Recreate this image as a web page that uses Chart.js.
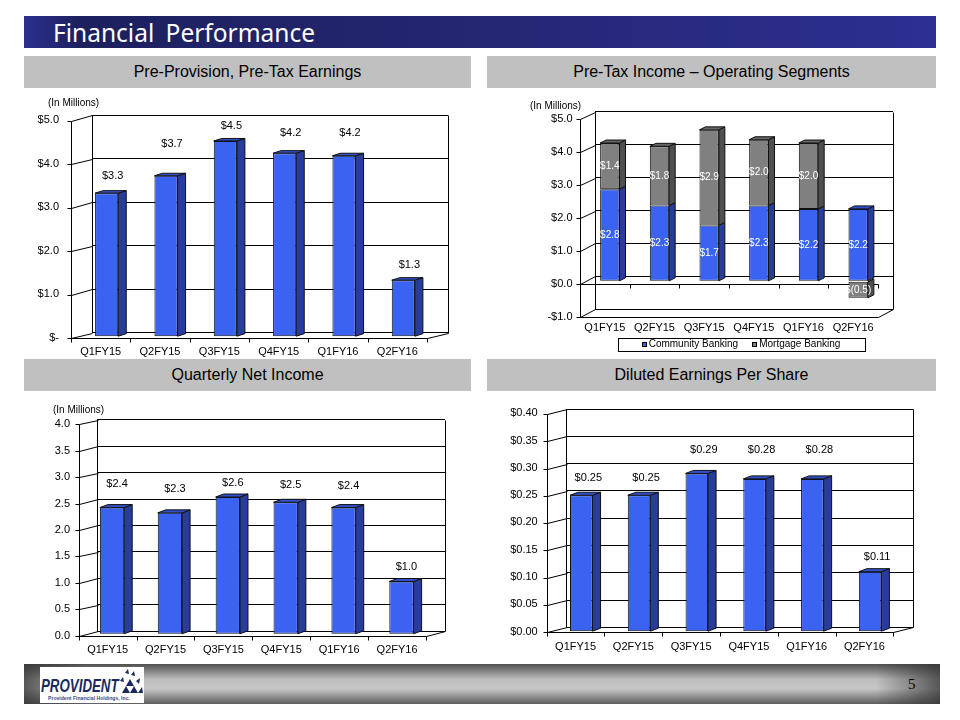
<!DOCTYPE html>
<html>
<head>
<meta charset="utf-8">
<script src="https://cdn.jsdelivr.net/npm/chart.js@4.4.1/dist/chart.umd.min.js"></script>
<style>
  body { margin:0; width:960px; height:720px; position:relative; overflow:hidden; background:#fff;
         font-family:"Liberation Sans", Arial, sans-serif; color:#000; }
  .titlebar { position:absolute; left:24px; top:16px; width:912px; height:32px;
              background:linear-gradient(to right,#2c3090 0%,#1d205e 6%,#23266f 45%,#2d2f92 100%); }
  .titlebar span { position:absolute; left:29px; top:0; line-height:32px; color:#fff;
                   font:24.5px "Noto Sans", "DejaVu Sans", sans-serif; word-spacing:5px; }
  .hdr { position:absolute; height:32px; line-height:32px; background:#c0c0c0; text-align:center; font-size:16px; }
  .unit { position:absolute; font-size:10px; line-height:12px; }
  canvas { position:absolute; }
  .footer { position:absolute; left:24px; top:664px; width:916px; height:40px;
            background:linear-gradient(to right,rgba(50,50,50,.75),rgba(0,0,0,0) 7%,rgba(0,0,0,0) 93%,rgba(50,50,50,.75)),
                       linear-gradient(#505050,#bdbdbd 38%,#c6c6c6 62%,#5e5e5e); }
  .logo { position:absolute; left:40px; top:667px; width:104px; height:36px; background:#fff; overflow:hidden; }
  .logo .big { position:absolute; left:1px; top:9px; font:bold italic 19px "Liberation Sans", Arial, sans-serif;
               color:#1b2a5e; transform:scaleX(0.7); transform-origin:left top; line-height:19px; }
  .logo .small { position:absolute; left:8px; top:28px; font:bold 6px "Liberation Sans", Arial, sans-serif; color:#3a4a8a;
                 transform:scaleX(0.85); transform-origin:left top; white-space:nowrap; }
  .logo svg { position:absolute; left:76px; top:0; }
  .page { position:absolute; left:908px; top:676px; font:15px "Liberation Serif", serif; }
</style>
</head>
<body>
<div class="titlebar"><span>Financial Performance</span></div>

<div class="hdr" style="left:24px;top:56px;width:447px">Pre-Provision, Pre-Tax Earnings</div>
<div class="hdr" style="left:487px;top:56px;width:449px">Pre-Tax Income – Operating Segments</div>
<div class="hdr" style="left:24px;top:359px;width:447px">Quarterly Net Income</div>
<div class="hdr" style="left:487px;top:359px;width:449px">Diluted Earnings Per Share</div>

<canvas id="ppte"></canvas>
<canvas id="segments"></canvas>
<canvas id="netIncome"></canvas>
<canvas id="eps"></canvas>

<div class="unit" style="left:48px;top:97px">(In Millions)</div>
<div class="unit" style="left:530px;top:100px">(In Millions)</div>
<div class="unit" style="left:53px;top:404px">(In Millions)</div>

<div class="footer"></div>
<div class="logo">
  <div class="big">PROVIDENT</div>
  <svg width="28" height="28" viewBox="0 0 28 28">
    <g fill="#1b2a5e">
      <polygon points="6,26 10,19 14,26"/><polygon points="14,26 18,19 22,26"/><polygon points="10,19 14,12 18,19"/>
      <polygon points="22,26 26,20 27,26"/><polygon points="15,8 18,4 19,9"/><polygon points="9,6 12,2 13,7"/>
      <polygon points="20,14 24,11 23,17"/><polygon points="4,14 7,10 8,15"/>
    </g>
  </svg>
  <div class="small">Provident Financial Holdings, Inc.</div>
</div>
<div class="page">5</div>

<script>
const quarters = ['Q1FY15', 'Q2FY15', 'Q3FY15', 'Q4FY15', 'Q1FY16', 'Q2FY16'];

const pptEarnings = [3.3, 3.7, 4.5, 4.22, 4.16, 1.3];
const pptTicks = [0, 1, 2, 3, 4, 5];

const communityBanking = [2.8, 2.3, 1.7, 2.3, 2.2, 2.2];
const mortgageBanking = [1.4, 1.8, 2.9, 2.0, 2.0, -0.5];
const segmentTicks = [-1, 0, 1, 2, 3, 4, 5];

const netIncome = [2.4, 2.3, 2.6, 2.5, 2.4, 1.0];
const netIncomeTicks = [0, 0.5, 1, 1.5, 2, 2.5, 3, 3.5, 4];

const dilutedEps = [0.25, 0.25, 0.29, 0.28, 0.28, 0.11];
const epsTicks = [0, 0.05, 0.10, 0.15, 0.20, 0.25, 0.30, 0.35, 0.40];

Chart.defaults.font.family = '"Liberation Sans", Arial, sans-serif';
Chart.defaults.color = '#000';

const BLUE = { front: '#3a63f2', side: '#283d9a', top: '#3050cc' };
const GREY = { front: '#808080', side: '#4f4f4f', top: '#666666' };

function face(ctx, pts, fill) {
  ctx.beginPath();
  pts.forEach(([x, y], k) => k ? ctx.lineTo(x, y) : ctx.moveTo(x, y));
  ctx.closePath();
  ctx.fillStyle = fill;
  ctx.fill();
  ctx.strokeStyle = '#111';
  ctx.lineWidth = 1;
  ctx.stroke();
}

// fake 3d: walls, floor, bar sides and value labels
function solid(s) {
  const px = v => Math.round(v) + 0.5;
  return {
    id: 'solid',
    beforeDatasetsDraw(chart) {
      const { ctx, chartArea: a, scales: { y } } = chart;
      const [fx, fy] = s.front;
      ctx.save();
      ctx.strokeStyle = '#000';
      ctx.lineWidth = 1;
      ctx.beginPath();
      y.ticks.forEach(t => {
        const py = y.getPixelForValue(t.value);
        ctx.moveTo(px(a.left), px(py));
        ctx.lineTo(px(a.left + fx), px(py + fy));
        ctx.lineTo(px(a.left + fx - 4), px(py + fy));
      });
      ctx.moveTo(px(a.left + fx), px(a.top + fy));
      ctx.lineTo(px(a.left + fx), px(a.bottom + fy));
      ctx.lineTo(px(a.right + fx), px(a.bottom + fy));
      ctx.lineTo(px(a.right), px(a.bottom));
      ctx.lineTo(px(a.right), px(a.top));
      const by = y.getPixelForValue(s.base) + fy;
      if (s.base > y.min) {
        ctx.moveTo(px(a.left + fx), px(by));
        ctx.lineTo(px(a.right + fx), px(by));
      }
      const n = chart.data.labels.length;
      const cw = (a.right - a.left) / n;
      for (let i = 0; i <= n; i++) {
        const tx = a.left + fx + i * cw;
        ctx.moveTo(px(tx), px(by));
        ctx.lineTo(px(tx), px(by + 4));
      }
      ctx.stroke();
      ctx.restore();

      ctx.save();
      ctx.translate(s.shift[0], s.shift[1]);
      const [dx, dy] = s.depth;
      const sets = chart.data.datasets;
      sets.forEach((ds, di) => {
        chart.getDatasetMeta(di).data.forEach((el, i) => {
          const l = el.x - el.width / 2, r = el.x + el.width / 2;
          const top = Math.min(el.y, el.base), bot = Math.max(el.y, el.base);
          face(ctx, [[r, top], [r + dx, top + dy], [r + dx, bot + dy], [r, bot]], ds.sideColor);
          const covered = sets.slice(di + 1).some(o => o.data[i] > 0);
          if (ds.data[i] > 0 && !covered) {
            face(ctx, [[l, top], [l + dx, top + dy], [r + dx, top + dy], [r, top]], ds.topColor);
          }
        });
      });
    },
    afterDatasetsDraw(chart) {
      const ctx = chart.ctx;
      ctx.restore();
      ctx.save();
      ctx.textAlign = 'center';
      ctx.textBaseline = 'middle';
      chart.data.datasets.forEach((ds, di) => {
        chart.getDatasetMeta(di).data.forEach((el, i) => {
          const v = ds.data[i];
          if (s.inside) {
            ctx.fillStyle = '#fff';
            ctx.font = '10px "Liberation Sans", Arial, sans-serif';
            ctx.fillText(s.fmt(v), el.x + s.shift[0], (el.y + el.base) / 2 + s.shift[1]);
          } else {
            ctx.fillStyle = '#000';
            ctx.font = '11px "Liberation Sans", Arial, sans-serif';
            ctx.fillText(s.fmt(v), el.x + s.shift[0] + s.labelDx, el.y + s.shift[1] - s.lift[i]);
          }
        });
      });
      ctx.restore();
    },
    afterDraw(chart) {
      if (!s.legend) return;
      const ctx = chart.ctx;
      const [lx, ly, lw, lh] = s.legend;
      ctx.save();
      ctx.font = '10px "Liberation Sans", Arial, sans-serif';
      ctx.textBaseline = 'middle';
      ctx.strokeStyle = '#000';
      ctx.lineWidth = 1;
      ctx.strokeRect(px(lx), px(ly), Math.round(lw), Math.round(lh));
      const items = chart.data.datasets.map(ds => ({ text: ds.label, color: ds.backgroundColor, w: 7 + ctx.measureText(ds.label).width }));
      const total = items.reduce((t, it) => t + it.w, 0) + 14 * (items.length - 1);
      let cx = lx + (lw - total) / 2;
      const cy = ly + lh / 2 + 0.5;
      items.forEach(it => {
        ctx.fillStyle = it.color;
        ctx.fillRect(Math.round(cx), Math.round(cy - 2.5), 5, 5);
        ctx.strokeRect(Math.round(cx) + 0.5, Math.round(cy - 2.5) + 0.5, 4, 4);
        ctx.fillStyle = '#000';
        ctx.fillText(it.text, cx + 7, cy);
        cx += it.w + 14;
      });
      ctx.restore();
    }
  };
}

function barSet(label, data, col, pct) {
  return {
    label, data,
    backgroundColor: col.front, sideColor: col.side, topColor: col.top,
    borderColor: '#111', borderWidth: 1, borderSkipped: false,
    barPercentage: pct, categoryPercentage: 1, clip: false
  };
}

function panel(id, box, wall, datasets, ticks, tickFmt, s) {
  const [bl, bt, bw, bh] = box;
  const [wl, wt, wr, wb] = wall;
  const cv = document.getElementById(id);
  cv.width = bw;
  cv.height = bh;
  cv.style.left = bl + 'px';
  cv.style.top = bt + 'px';
  if (s.legend) s.legend = [s.legend[0] - bl, s.legend[1] - bt, s.legend[2], s.legend[3]];
  return new Chart(cv, {
    type: 'bar',
    data: { labels: quarters, datasets },
    options: {
      responsive: false,
      animation: false,
      layout: { padding: { left: 0, top: wt - bt, right: bl + bw - wr, bottom: 0 } },
      plugins: { legend: { display: false }, tooltip: { enabled: false } },
      scales: {
        x: {
          stacked: !!s.stacked,
          grid: { display: false },
          border: { display: false },
          ticks: { padding: s.xPad, labelOffset: s.front[0], maxRotation: 0, autoSkip: false, font: { size: 11 }, color: '#000' },
          afterFit: sc => { sc.height = bt + bh - wb; sc.paddingLeft = 0; sc.paddingRight = 0; }
        },
        y: {
          stacked: !!s.stacked,
          min: ticks[0],
          max: ticks[ticks.length - 1],
          afterBuildTicks: sc => { sc.ticks = ticks.map(v => ({ value: v })); },
          grid: { color: '#000', drawTicks: false },
          border: { display: true, color: '#000' },
          ticks: { padding: wl - s.yRight, labelOffset: s.yOff, callback: tickFmt, font: { size: 11 }, color: '#000' },
          afterFit: sc => { sc.width = wl - bl; sc.paddingTop = 0; sc.paddingBottom = 0; }
        }
      }
    },
    plugins: [solid(s)]
  });
}

const money1 = v => '$' + v.toFixed(1);

panel('ppte', [24, 92, 447, 266], [92, 115, 448, 332.5],
  [barSet('Pre-Provision, Pre-Tax Earnings', pptEarnings, BLUE, 0.39)],
  pptTicks, v => v === 0 ? '$-' : money1(v),
  { front: [-21, 5.5], shift: [-15, 4.2], depth: [8, -2.5], base: 0, yRight: 59, yOff: 5, xPad: 5.2,
    lift: [17, 32, 15, 20, 23, 15], labelDx: 6, fmt: money1 });

panel('segments', [487, 92, 449, 266], [595, 111.7, 893, 309.3],
  [barSet('Community Banking', communityBanking, BLUE, 0.39),
   barSet('Mortgage Banking', mortgageBanking, GREY, 0.39)],
  segmentTicks, v => v < 0 ? '-$' + Math.abs(v).toFixed(1) : money1(v),
  { stacked: true, inside: true, front: [-15, 7.5], shift: [-10, 5], depth: [6, -3], base: 0, yRight: 572.5, yOff: 7.5, xPad: 4.5,
    legend: [617.5, 337.5, 247, 12.5],
    fmt: v => v < 0 ? '$(' + Math.abs(v).toFixed(1) + ')' : money1(v) });

panel('netIncome', [24, 393, 447, 267], [97.7, 419.8, 445, 631],
  [barSet('Quarterly Net Income', netIncome, BLUE, 0.42)],
  netIncomeTicks, v => v.toFixed(1),
  { front: [-19, 4.5], shift: [-14.6, 3.3], depth: [8, -3], base: 0, yRight: 70, yOff: 4.5, xPad: 4,
    lift: [24, 24, 14, 17, 22, 15], labelDx: 5, fmt: money1 });

panel('eps', [487, 393, 449, 267], [566.7, 409, 913.3, 627.3],
  [barSet('Diluted Earnings Per Share', dilutedEps, BLUE, 0.39)],
  epsTicks, v => '$' + v.toFixed(2),
  { front: [-20, 5], shift: [-14.3, 4.4], depth: [8, -3], base: 0, yRight: 537.7, yOff: 4.3, xPad: 4.8,
    lift: [17, 17, 23, 28.5, 28.5, 14.6], labelDx: 7, fmt: v => '$' + v.toFixed(2) });
</script>
</body>
</html>
